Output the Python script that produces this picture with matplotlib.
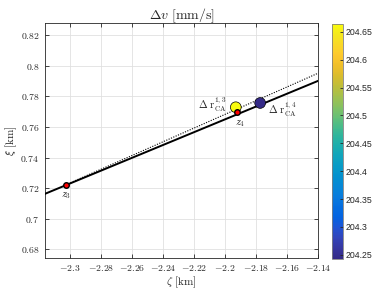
import numpy as np
import matplotlib
matplotlib.use("Agg")
import matplotlib.pyplot as plt
from matplotlib.colors import LinearSegmentedColormap
from matplotlib.ticker import FormatStrFormatter, FuncFormatter

plt.rcParams['mathtext.fontset'] = 'cm'
plt.rcParams['font.family'] = 'cmr10'
plt.rcParams['axes.formatter.use_mathtext'] = True
plt.rcParams['axes.unicode_minus'] = False

# ---- data ----
z_pts_x = [-2.3026, -2.1919]
z_pts_y = [0.7222, 0.7695]
z_labels = ['$z_3$', '$z_4$']
dr_x = [-2.1930, -2.1773]
dr_y = [0.7728, 0.7756]
dr_val = [204.664, 204.243]
dr_labels = [r'$\Delta\ \mathrm{r}^{1,3}_{\mathrm{CA}}$', r'$\Delta\ \mathrm{r}^{1,4}_{\mathrm{CA}}$']
solid_x = [-2.316, -2.14]
solid_y = [0.7163, 0.790]
dotted_x = [-2.3026, -2.14]
dotted_y = [0.7222, 0.795]
xticks = [-2.3, -2.28, -2.26, -2.24, -2.22, -2.2, -2.18, -2.16, -2.14]
yticks = [0.68, 0.7, 0.72, 0.74, 0.76, 0.78, 0.8, 0.82]
cticks = [204.25, 204.3, 204.35, 204.4, 204.45, 204.5, 204.55, 204.6, 204.65]
clim = (204.243, 204.664)

parula_anchors = [
    (0.2081, 0.1663, 0.5292), (0.2123, 0.2138, 0.6270), (0.1959, 0.2645, 0.7279),
    (0.1253, 0.3242, 0.8303), (0.0117, 0.3875, 0.8820), (0.0165, 0.4266, 0.8786),
    (0.0329, 0.4798, 0.8681), (0.0206, 0.5270, 0.8414), (0.0095, 0.5635, 0.8118),
    (0.0272, 0.6049, 0.7813), (0.0591, 0.6410, 0.7411), (0.1023, 0.6766, 0.6857),
    (0.1764, 0.7092, 0.6202), (0.2858, 0.7356, 0.5400), (0.4121, 0.7530, 0.4558),
    (0.5340, 0.7588, 0.3746), (0.6466, 0.7541, 0.2953), (0.7530, 0.7446, 0.2216),
    (0.8588, 0.7395, 0.1750), (0.9444, 0.7505, 0.1647), (0.9934, 0.7876, 0.1758),
    (0.9780, 0.8460, 0.1554), (0.9593, 0.9100, 0.1150), (0.9763, 0.9831, 0.0538)]
parula = LinearSegmentedColormap.from_list('parula', parula_anchors)

fig = plt.figure(figsize=(3.9, 2.93), dpi=100)
W, H = 390, 293
ax = fig.add_axes([45 / W, 1 - 257.7 / H, (318 - 45) / W, (257.7 - 23.3) / H])
cax = fig.add_axes([331.7 / W, 1 - 258.7 / H, (343.3 - 331.7) / W, (258.7 - 24) / H])

ax.set_xlim(-2.316, -2.14)
ax.set_ylim(0.6746, 0.8276)

ax.plot(dotted_x, dotted_y, color='black', linestyle=(0, (1, 1.3)), linewidth=0.8, zorder=2)
ax.plot(solid_x, solid_y, color='black', linewidth=1.4, zorder=3)
ax.plot(z_pts_x, z_pts_y, linestyle='none', marker='o', markersize=4,
        markerfacecolor='red', markeredgecolor='black', markeredgewidth=1.0, zorder=5)
sc = ax.scatter(dr_x, dr_y, c=dr_val, cmap=parula, vmin=clim[0], vmax=clim[1],
                s=60, edgecolors='black', linewidths=0.5, zorder=4)

ax.text(z_pts_x[0], 0.7148, z_labels[0], ha='center', va='center', fontsize=7.5, color='0.15')
ax.text(-2.1905, 0.7619, z_labels[1], ha='center', va='center', fontsize=7.5, color='0.15')
ax.text(-2.1986, 0.7743, dr_labels[0], ha='right', va='center', fontsize=7.5, color='0.15')
ax.text(-2.1725, 0.7715, dr_labels[1], ha='left', va='center', fontsize=7.5, color='0.15')

ax.set_xticks(xticks)
ax.set_yticks(yticks)
fmt = FuncFormatter(lambda v, p: '$%g$' % v)
ax.xaxis.set_major_formatter(fmt)
ax.yaxis.set_major_formatter(fmt)
ax.tick_params(direction='in', top=True, right=True, length=3, width=0.6,
               labelsize=7, colors='0.15', pad=4)
ax.grid(True, color='0.88', linewidth=0.6, zorder=0)
ax.set_axisbelow(True)
for s in ax.spines.values():
    s.set_color('0.15')
    s.set_linewidth(0.6)

ax.set_xlabel(r'$\zeta\ [\mathrm{km}]$', fontsize=8, color='0.15', labelpad=1)
ax.set_ylabel(r'$\xi\ [\mathrm{km}]$', fontsize=8, color='0.15', labelpad=1)
ax.set_title(r'$\Delta v\ [\mathrm{mm/s}]$', fontsize=10, color='0.15', pad=3)

cb = fig.colorbar(sc, cax=cax)
cb.set_ticks(cticks)
cb.ax.yaxis.set_major_formatter(FormatStrFormatter('%g'))
cb.ax.tick_params(direction='in', length=2.5, width=0.6, labelsize=6.3, colors='0.15', pad=2)
for lab in cb.ax.get_yticklabels():
    lab.set_family('Liberation Sans')
cb.outline.set_edgecolor('0.5')
cb.outline.set_linewidth(0.6)

fig.savefig('out.png', dpi=100)
